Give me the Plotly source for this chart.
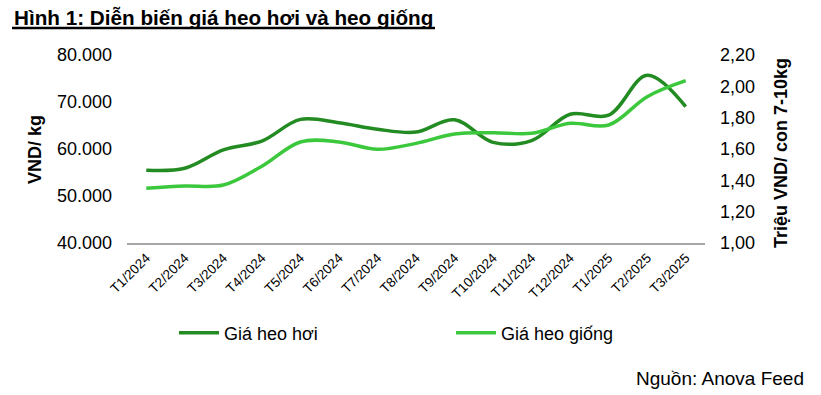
import plotly.graph_objects as go

months = ["T1/2024", "T2/2024", "T3/2024", "T4/2024", "T5/2024", "T6/2024", "T7/2024",
          "T8/2024", "T9/2024", "T10/2024", "T11/2024", "T12/2024", "T1/2025", "T2/2025", "T3/2025"]
heo_hoi = [55500, 55900, 59800, 61700, 66300, 65600, 64200, 63600, 66200, 61400, 61800,
           67400, 67200, 75700, 69000]
heo_giong = [1.35, 1.364, 1.37, 1.49, 1.645, 1.645, 1.598, 1.636, 1.696, 1.704, 1.70,
             1.764, 1.753, 1.934, 2.036]

FONT = "Arial, Liberation Sans, sans-serif"
DARK = "#228B22"
LIGHT = "#3CC83C"

L, R, T, B = 127, 116, 55, 152
W, H = 821, 395
PW, PH = W - L - R, H - T - B


def px(x):
    return (x - L) / PW


def py(y):
    return (H - B - y) / PH


fig = go.Figure()
fig.add_trace(go.Scatter(x=months, y=heo_hoi, name="Giá heo hơi", mode="lines",
                         line=dict(color=DARK, width=3.5, shape="spline", smoothing=1.0),
                         yaxis="y", legend="legend"))
fig.add_trace(go.Scatter(x=months, y=heo_giong, name="Giá heo giống", mode="lines",
                         line=dict(color=LIGHT, width=3.5, shape="spline", smoothing=1.0),
                         yaxis="y2", legend="legend2"))

leg_common = dict(orientation="h", yanchor="middle", xanchor="left",
                  font=dict(size=18, family=FONT), bgcolor="rgba(0,0,0,0)", itemwidth=40)

fig.update_layout(
    width=W, height=H,
    margin=dict(l=L, r=R, t=T, b=B, pad=0),
    paper_bgcolor="white", plot_bgcolor="white",
    separators=",.",
    font=dict(family=FONT, color="black", size=18),
    showlegend=True,
    legend=dict(x=px(174), y=py(333), **leg_common),
    legend2=dict(x=px(451), y=py(333), **leg_common),
    xaxis=dict(type="category", range=[-0.5, len(months) - 0.5], showgrid=False, zeroline=False,
               showline=True, linecolor="#A6A6A6", linewidth=1.5, ticks="", tickangle=-45,
               tickfont=dict(size=13.5, family=FONT)),
    yaxis=dict(range=[40000, 80000], dtick=10000, tickformat=",d", showgrid=False,
               zeroline=False, showline=False, ticks="", ticklabelstandoff=14,
               tickfont=dict(size=18, family=FONT)),
    yaxis2=dict(range=[1.0, 2.2], dtick=0.2, tickformat=".2f", overlaying="y", side="right",
                showgrid=False, zeroline=False, showline=False, ticks="", ticklabelstandoff=14,
                tickfont=dict(size=18, family=FONT)),
    annotations=[
        dict(text="<b>Hình 1: Diễn biến giá heo hơi và heo giống</b>", xref="paper", yref="paper",
             x=px(12), y=py(17), xanchor="left", yanchor="middle", showarrow=False,
             font=dict(size=20.7, family=FONT)),
        dict(text="<b>VND/ kg</b>", xref="paper", yref="paper", x=px(35), y=py(150),
             xanchor="center", yanchor="middle", textangle=-90, showarrow=False,
             font=dict(size=18, family=FONT)),
        dict(text="<b>Triệu VND/ con 7-10kg</b>", xref="paper", yref="paper", x=px(781), y=py(153),
             xanchor="center", yanchor="middle", textangle=-90, showarrow=False,
             font=dict(size=18, family=FONT)),
        dict(text="Nguồn: Anova Feed", xref="paper", yref="paper", x=px(806), y=py(378),
             xanchor="right", yanchor="middle", showarrow=False,
             font=dict(size=19, family=FONT)),
    ],
    shapes=[
        dict(type="line", xref="paper", yref="paper", x0=px(12), x1=px(435), y0=py(28), y1=py(28),
             line=dict(color="black", width=2.5)),
    ],
)

fig.write_html("out.html", config={"displayModeBar": False},
               post_script="document.body.style.margin='0';")
